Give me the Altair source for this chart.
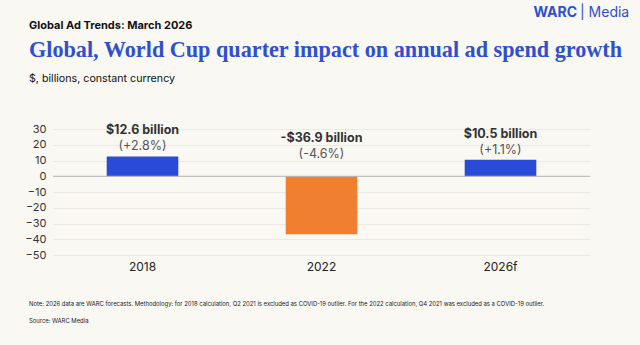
import altair as alt
import pandas as pd

years = ["2018", "2022", "2026f"]
impact_bn = [12.6, -36.9, 10.5]
impact_pct = [2.8, -4.6, 1.1]
bar_colors = ["#2a4bd7", "#f0802f", "#2a4bd7"]
y_ticks = [30, 20, 10, 0, -10, -20, -30, -40, -50]

header = "Global Ad Trends: March 2026"
title = "Global, World Cup quarter impact on annual ad spend growth"
subtitle = "$, billions, constant currency"
note = ("Note: 2026 data are WARC forecasts. Methodology: for 2018 calculation, Q2 2021 is excluded as COVID-19 outlier. "
        "For the 2022 calculation, Q4 2021 was excluded as a COVID-19 outlier.")
source = "Source: WARC Media"

def fmt_bn(v):
    return ("-" if v < 0 else "") + f"${abs(v):.1f} billion"

def fmt_pct(p):
    return f"({'+' if p > 0 else '-'}{abs(p):.1f}%)"

df = pd.DataFrame({
    "year": years,
    "value": impact_bn,
    "label": [fmt_bn(v) for v in impact_bn],
    "pct": [fmt_pct(p) for p in impact_pct],
    "color": bar_colors,
})

SANS = "Inter"
xscale = alt.Scale(domain=years, paddingInner=0.6, paddingOuter=0.3)
yscale = alt.Scale(domain=[-50, 30], nice=False)

xaxis = alt.Axis(labelAngle=0, ticks=False, domain=False, labelPadding=6, grid=False,
                 labelFont=SANS, labelFontSize=12, labelColor="#222")
yaxis = alt.Axis(values=y_ticks, ticks=False, domain=False, labelPadding=7,
                 labelOverlap=False, labelBound=False, labelFlush=False,
                 labelFont=SANS, labelFontSize=11, labelColor="#333",
                 grid=True, gridColor="#ebe9e1", gridWidth=1)

base = alt.Chart(df)

bars = base.mark_bar().encode(
    x=alt.X("year:N", scale=xscale, sort=years, title=None, axis=xaxis),
    y=alt.Y("value:Q", scale=yscale, title=None, axis=yaxis),
    color=alt.Color("color:N", scale=None),
)

zero = alt.Chart(pd.DataFrame({"z": [0]})).mark_rule(color="#b5b5b5", strokeWidth=1).encode(
    y=alt.Y("z:Q", scale=yscale, title=None, axis=yaxis)
)

anchored = base.transform_calculate(anchor="datum.value > 0 ? datum.value : 7.5")

lbl = anchored.mark_text(font=SANS, fontSize=12.5, fontWeight="bold", color="#333",
                         baseline="middle", dy=-26).encode(
    x=alt.X("year:N", scale=xscale, sort=years, title=None, axis=xaxis),
    y=alt.Y("anchor:Q", scale=yscale, title=None, axis=yaxis),
    text="label:N",
)
pct = anchored.mark_text(font=SANS, fontSize=12.5, color="#555",
                         baseline="middle", dy=-10).encode(
    x=alt.X("year:N", scale=xscale, sort=years, title=None, axis=xaxis),
    y=alt.Y("anchor:Q", scale=yscale, title=None, axis=yaxis),
    text="pct:N",
)

def txt(s, x, y, **kw):
    return alt.Chart(pd.DataFrame({"t": [s]})).mark_text(baseline="alphabetic", **kw).encode(
        x=alt.value(x), y=alt.value(y), text="t:N")

texts = [
    txt(header, -24, -100, align="left", font=SANS, fontSize=11, fontWeight="bold", color="#111"),
    txt(title, -24, -72, align="left", font="Liberation Serif", fontSize=22.2, fontWeight="bold", color="#2f4fcf"),
    txt(subtitle, -24, -47, align="left", font=SANS, fontSize=10.7, color="#111"),
    txt("WARC", 524, -112, align="right", font=SANS, fontSize=14, fontWeight="bold", color="#2f4fcf"),
    txt("| Media", 527, -112, align="left", font=SANS, fontSize=14, color="#2f4fcf"),
    txt(note, -24, 177, align="left", font=SANS, fontSize=5.9, color="#222"),
    txt(source, -24, 194, align="left", font=SANS, fontSize=5.9, color="#222"),
]

chart = alt.layer(bars, zero, lbl, pct, *texts).properties(
    width=537, height=126,
    autosize=alt.AutoSizeParams(type="none"),
    padding={"left": 53, "top": 129, "right": 50, "bottom": 90},
    background="#f9f8f3",
).configure_view(stroke=None)

chart.save("out.html", embed_options={"renderer": "svg", "actions": False})
